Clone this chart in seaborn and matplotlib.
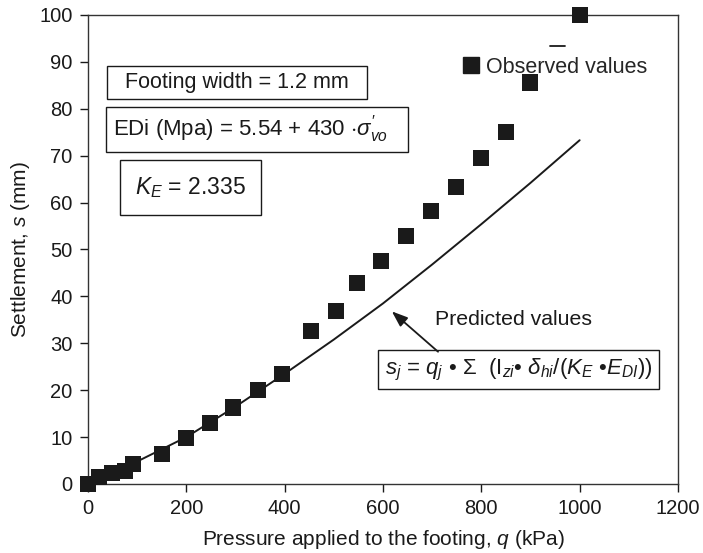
import matplotlib
matplotlib.use("Agg")
import matplotlib.pyplot as plt
from matplotlib.lines import Line2D
import seaborn as sns
import pandas as pd

# Observed settlement under increasing footing pressure
obs_q = [0, 22, 49, 75, 92, 150, 200, 248, 295, 346, 395, 453, 504, 547,
         596, 647, 698, 748, 799, 850, 899, 1000]
obs_s = [0, 1.5, 2.4, 2.8, 4.2, 6.4, 9.8, 13.0, 16.3, 20.0, 23.4, 32.6, 36.9,
         42.9, 47.6, 52.9, 58.2, 63.4, 69.5, 75.0, 85.6, 100.0]

# Predicted settlement curve
pred_q = [0, 100, 200, 300, 400, 500, 600, 700, 800, 900, 1000]
pred_s = [0, 4.8, 10.0, 16.5, 23.5, 30.8, 38.5, 46.8, 55.4, 64.2, 73.3]

x_ticks = [0, 200, 400, 600, 800, 1000, 1200]
y_ticks = [0, 10, 20, 30, 40, 50, 60, 70, 80, 90, 100]

sns.set_theme(style="white")
plt.rcParams["font.family"] = ["Liberation Sans", "DejaVu Sans"]
plt.rcParams["mathtext.fontset"] = "custom"
plt.rcParams["mathtext.rm"] = "Liberation Sans"
plt.rcParams["mathtext.it"] = "Liberation Sans:italic"
plt.rcParams["mathtext.bf"] = "Liberation Sans:bold"

ink = "#1a1a1a"
obs = pd.DataFrame({"q": obs_q, "s": obs_s})
pred = pd.DataFrame({"q": pred_q, "s": pred_s})

fig = plt.figure(figsize=(7.03, 5.53), dpi=100)
ax = fig.add_axes([0.1252, 0.1248, 0.8392, 0.8481])

sns.lineplot(data=pred, x="q", y="s", ax=ax, color=ink, linewidth=1.4)
sns.scatterplot(data=obs, x="q", y="s", ax=ax, marker="s", s=135,
                color=ink, edgecolor="none", clip_on=False, zorder=5)

ax.set_xlim(0, 1200)
ax.set_ylim(0, 100)
ax.set_xticks(x_ticks)
ax.set_yticks(y_ticks)
ax.tick_params(axis="both", direction="out", length=6, width=1,
               labelsize=14.5, colors=ink, left=True, bottom=True, pad=5)
for sp in ax.spines.values():
    sp.set_color("#333333")
    sp.set_linewidth(1.0)

ax.set_xlabel("Pressure applied to the footing, $q$ (kPa)", fontsize=15,
              color=ink, labelpad=7)
ax.set_ylabel("Settlement, $s$ (mm)", fontsize=15, color=ink, labelpad=5)

box = dict(boxstyle="square,pad=0.3", fc="white", ec=ink, lw=1.0)
ax.text(303, 85.6, "  Footing width = 1.2 mm  ", fontsize=15.5, ha="center",
        va="center", bbox=box, color=ink)
ax.text(51, 75.6, r"EDi (Mpa) = 5.54 + 430 $\cdot\sigma^{\prime}_{vo}$   ",
        fontsize=16, ha="left", va="center", bbox=box, color=ink)
ax.text(209, 63.2, r"$K_E$ = 2.335", fontsize=16.5, ha="center", va="center",
        bbox=dict(boxstyle="square,pad=0.65", fc="white", ec=ink, lw=1.0),
        color=ink)
ax.text(876, 24.4,
        r"$s_j$ = $q_j$ • Σ  (I$_{zi}$• $\delta_{hi}$/($K_E$ •$E_{DI}$))",
        fontsize=16, ha="center", va="center", bbox=box, color=ink)

ax.text(865, 35.0, "Predicted values", fontsize=15.3, ha="center",
        va="center", color=ink)
ax.annotate("", xy=(618, 36.8), xytext=(712, 28.2),
            arrowprops=dict(arrowstyle="-|>,head_length=0.8,head_width=0.3",
                            color=ink, lw=1.3, shrinkA=0, shrinkB=0))

# Legend-style key for the observed series
handle = Line2D([], [], marker="s", linestyle="none", markersize=11,
                color=ink)
ax.legend([handle], ["Observed values"], loc="center left",
          bbox_to_anchor=(0.634, 0.889), frameon=False, fontsize=15.5,
          handlelength=0.8, handletextpad=0.3, borderpad=0, borderaxespad=0)
ax.add_line(Line2D([0.783, 0.808], [0.934, 0.934], transform=ax.transAxes,
                   color=ink, lw=1.3))

fig.savefig("out.png", dpi=100)
